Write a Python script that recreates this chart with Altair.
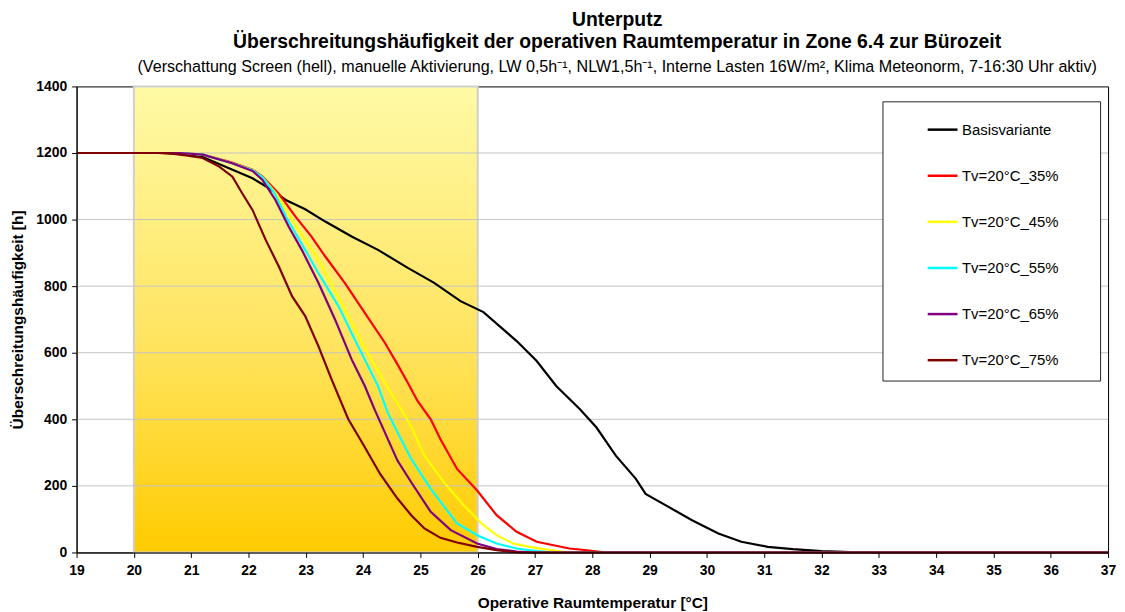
import altair as alt
import pandas as pd

FONT = "Liberation Sans"

series_names = ["Basisvariante", "Tv=20°C_35%", "Tv=20°C_45%", "Tv=20°C_55%", "Tv=20°C_65%", "Tv=20°C_75%"]
series_colors = ["#000000", "#FF0000", "#FFFF00", "#00FFFF", "#800080", "#800000"]

base_T = [19, 20.5, 20.9, 21.2, 21.66, 22.07, 22.36, 22.65, 22.99, 23.34, 23.8, 24.26, 24.78, 25.24, 25.7,
          26.1, 26.68, 27.03, 27.37, 27.78, 28.07, 28.41, 28.76, 28.93, 29.33, 29.74, 30.2, 30.6, 31.06,
          31.5, 32.0, 32.5, 33.0, 37]
base_V = [1200, 1200, 1196, 1188, 1154, 1124, 1094, 1059, 1031, 994, 949, 909, 855, 810, 755,
          722, 635, 575, 500, 431, 376, 291, 221, 176, 137, 97, 57, 32, 17,
          10, 4, 1, 0, 0]

r35_T = [19, 20.8, 21.2, 21.7, 22.07, 22.24, 22.53, 22.82, 23.1, 23.34, 23.68, 24.03, 24.38, 24.6, 24.78,
         24.95, 25.18, 25.35, 25.64, 25.99, 26.33, 26.68, 27.03, 27.26, 27.6, 27.95, 28.24, 37]
r35_V = [1200, 1200, 1195, 1172, 1150, 1130, 1078, 1009, 949, 889, 810, 720, 630, 565, 510,
         455, 400, 340, 251, 186, 112, 62, 32, 24, 12, 6, 0, 0]

y45_T = [19, 20.8, 21.2, 21.7, 22.07, 22.24, 22.5, 22.76, 23.22, 23.68, 24.14, 24.49, 24.6, 24.72, 24.84,
         25.07, 25.41, 25.76, 26.1, 26.33, 26.62, 26.91, 27.26, 27.6, 37]
y45_V = [1200, 1200, 1195, 1170, 1148, 1128, 1075, 999, 879, 730, 580, 478, 448, 414, 378,
         291, 211, 141, 82, 52, 27, 17, 7, 0, 0]

c55_T = [19, 20.8, 21.2, 21.7, 22.07, 22.24, 22.45, 22.65, 22.99, 23.22, 23.57, 23.91, 24.26, 24.43,
         24.6, 24.84, 25.18, 25.64, 25.99, 26.33, 26.68, 27.03, 27.3, 37]
c55_V = [1200, 1200, 1195, 1170, 1148, 1128, 1080, 1009, 909, 839, 740, 620, 500, 420,
         361, 281, 191, 87, 52, 27, 12, 4, 0, 0]

p65_T = [19, 20.8, 21.2, 21.7, 22.07, 22.24, 22.47, 22.7, 22.93, 23.22, 23.51, 23.8, 24.03, 24.2,
         24.6, 24.84, 25.18, 25.53, 25.99, 26.33, 26.68, 27.0, 37]
p65_V = [1200, 1200, 1195, 1170, 1146, 1120, 1059, 979, 909, 810, 700, 580, 500, 430,
         276, 211, 122, 67, 27, 10, 3, 0, 0]

m75_T = [19, 20.4, 20.63, 20.91, 21.2, 21.49, 21.72, 21.89, 22.07, 22.3, 22.53, 22.76, 22.99, 23.22,
         23.45, 23.74, 24.0, 24.3, 24.6, 24.84, 25.07, 25.35, 25.64, 25.99, 26.33, 26.7, 37]
m75_V = [1200, 1200, 1199, 1193, 1185, 1159, 1129, 1079, 1029, 939, 859, 770, 710, 620,
         520, 401, 325, 235, 162, 112, 72, 44, 30, 17, 7, 0, 0]

x_ticks = list(range(19, 38))
y_ticks = [0, 200, 400, 600, 800, 1000, 1200, 1400]
grid_values = [200, 400, 600, 800, 1000, 1200]
band_start, band_end = [20], [26]
band_low, band_high = [0], [1400]

all_T = [base_T, r35_T, y45_T, c55_T, p65_T, m75_T]
all_V = [base_V, r35_V, y45_V, c55_V, p65_V, m75_V]
rows = []
for name, ts, vs in zip(series_names, all_T, all_V):
    for t, v in zip(ts, vs):
        rows.append({"T": t, "h": v, "Serie": name})
df = pd.DataFrame(rows)

band_df = pd.DataFrame({"T": band_start, "T_end": band_end, "h": band_low, "h_end": band_high})
grid_df = pd.DataFrame({"h": grid_values})

x_axis = alt.Axis(values=x_ticks, format="d", grid=False, title="Operative Raumtemperatur [°C]",
                  labelFont=FONT, labelFontSize=14, labelFontWeight="bold", labelColor="black",
                  labelPadding=6, labelFlush=False, tickColor="black", tickSize=5, domainColor="black",
                  titleFont=FONT, titleFontSize=15.5, titleFontWeight="bold", titleColor="black",
                  titlePadding=18, zindex=1)
y_axis = alt.Axis(values=y_ticks, format="d", grid=False, title="Überschreitungshäufigkeit [h]",
                  labelFont=FONT, labelFontSize=14, labelFontWeight="bold", labelColor="black",
                  labelPadding=5, tickColor="black", tickSize=5, domainColor="black",
                  titleFont=FONT, titleFontSize=15.5, titleFontWeight="bold", titleColor="black",
                  titlePadding=10, zindex=1)

x_enc = alt.X("T:Q", scale=alt.Scale(domain=[19, 37], nice=False, zero=False), axis=x_axis)
y_enc = alt.Y("h:Q", scale=alt.Scale(domain=[0, 1400], nice=False), axis=y_axis)

gradient = alt.Gradient(
    gradient="linear",
    stops=[alt.GradientStop(color="#FFFAA6", offset=0),
           alt.GradientStop(color="#FFE460", offset=0.55),
           alt.GradientStop(color="#FFCB00", offset=1)],
    x1=0, x2=0, y1=0, y2=1,
)

band = alt.Chart(band_df).mark_rect(color=gradient, stroke="#CFCFCF", strokeWidth=2).encode(
    x=x_enc, x2="T_end:Q", y=y_enc, y2="h_end:Q"
)

grid = alt.Chart(grid_df).mark_rule(color="#C4C4C4", strokeWidth=1).encode(y=y_enc)

lines = alt.Chart(df).mark_line(strokeWidth=2.2, interpolate="linear").encode(
    x=x_enc,
    y=y_enc,
    color=alt.Color(
        "Serie:N",
        scale=alt.Scale(domain=series_names, range=series_colors),
        sort=series_names,
        legend=alt.Legend(
            title=None, orient="none", legendX=811, legendY=15, direction="vertical",
            padding=12, strokeColor="#222222", fillColor="white",
            symbolType="stroke", symbolSize=900, symbolStrokeWidth=2.5, symbolOffset=32,
            labelFont=FONT, labelFontSize=15, labelColor="black", labelOffset=3,
            rowPadding=21.4, labelLimit=400,
            labelExpr="datum.label + '       \u200b'",
        ),
    ),
    order=alt.Order("T:Q"),
)

chart = alt.layer(band, grid, lines).properties(
    width=1038,
    height=469,
    padding={"left": 69, "top": 77, "right": 9, "bottom": 58},
    autosize=alt.AutoSizeParams(type="none"),
    title=alt.TitleParams(
        text=["Unterputz", "Überschreitungshäufigkeit der operativen Raumtemperatur in Zone 6.4 zur Bürozeit"],
        subtitle="(Verschattung Screen (hell), manuelle Aktivierung, LW 0,5h⁻¹, NLW1,5h⁻¹, Interne Lasten 16W/m², Klima Meteonorm, 7-16:30 Uhr aktiv)",
        font=FONT, fontSize=19.5, fontWeight="bold", color="black", lineHeight=22.5,
        subtitleFont=FONT, subtitleFontSize=16.2, subtitleColor="black", subtitlePadding=7,
        anchor="middle", dx=25, offset=3,
    ),
).configure_view(stroke="black", strokeWidth=1)

chart.save("out.html", embed_options={"renderer": "svg", "actions": False})
